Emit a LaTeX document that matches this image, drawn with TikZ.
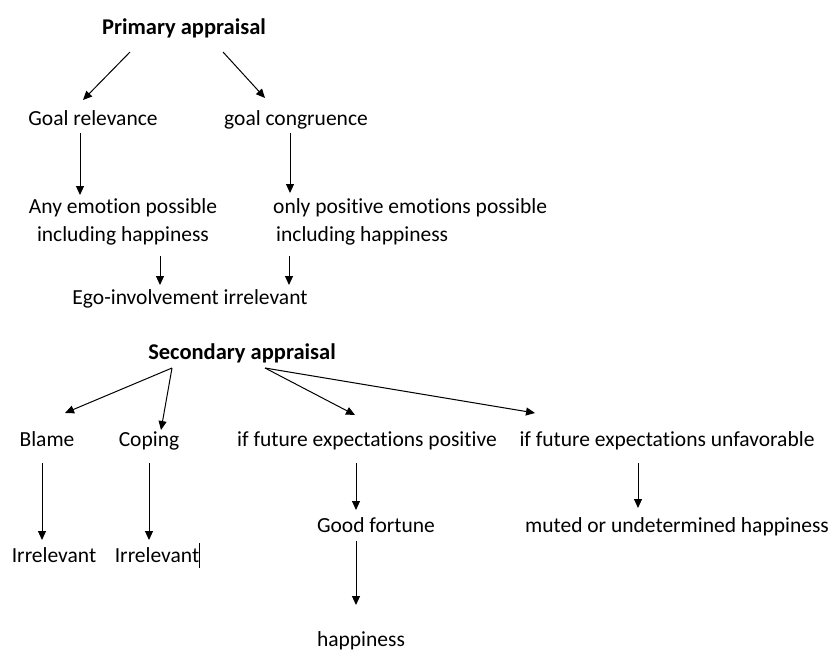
\documentclass[tikz,border=0pt]{standalone}
\usepackage{fontspec}
\setmainfont[Ligatures=NoCommon]{Carlito}
\usetikzlibrary{arrows.meta}
\begin{document}
\begin{tikzpicture}[x=1pt,y=-1pt,
  lbl/.style={inner sep=0pt,anchor=base,font=\fontsize{21.5}{28}\selectfont},
  ttl/.style={lbl,font=\fontsize{22.5}{28}\selectfont\bfseries},
  multi/.style={inner sep=0pt,font=\fontsize{21.5}{28}\selectfont},
  arr/.style={line width=1pt,-{Triangle[length=9pt,width=8pt]}}]
\useasboundingbox (0,0) rectangle (832,653);
% nodes
\node[ttl] (pa) at (184,34) {Primary appraisal};
\node[lbl] (gr) at (93,125) {Goal relevance};
\node[lbl] (gc) at (296,125) {goal congruence};
\node[multi,align=center] (aep) at (123,222) {Any emotion possible\\including happiness};
\node[multi,align=left,anchor=west] (opep) at (273,222) {only positive emotions possible\\\hspace{3pt}including happiness};
\node[lbl] (ego) at (190,304) {Ego-involvement irrelevant};
\node[ttl] (sa) at (242,359) {Secondary appraisal};
\node[lbl] (blame) at (47,446) {Blame};
\node[lbl] (coping) at (149,446) {Coping};
\node[lbl] (fep) at (367,446) {if future expectations positive};
\node[lbl] (feu) at (667,446) {if future expectations unfavorable};
\node[lbl] (irr1) at (54,562) {Irrelevant};
\node[lbl] (irr2) at (157,562) {Irrelevant};
\node[lbl] (gf) at (376,532) {Good fortune};
\node[lbl] (muted) at (677,532) {muted or undetermined happiness};
\node[lbl] (hap) at (361,646) {happiness};
% connectors
\draw[arr] ([shift={(-54,18)}]pa.base) -- ([shift={(-10,-25)}]gr.base);
\draw[arr] ([shift={(39,18)}]pa.base) -- ([shift={(-31,-27)}]gc.base);
\draw[arr] ([shift={(-13,8)}]gr.base) -- ([shift={(-43,-27)}]aep.center);
\draw[arr] ([shift={(-6,8)}]gc.base) -- ([shift={(17,-29)}]opep.west);
\draw[arr] ([shift={(37,34)}]aep.center) -- ([shift={(-30,-19)}]ego.base);
\draw[arr] ([shift={(16,34)}]opep.west) -- ([shift={(99,-19)}]ego.base);
\draw[arr] ([shift={(-70,9)}]sa.base) -- ([shift={(18,-33)}]blame.base);
\draw[arr] ([shift={(-70,9)}]sa.base) -- ([shift={(12,-16)}]coping.base);
\draw[arr] ([shift={(23,9)}]sa.base) -- ([shift={(-12,-31)}]fep.base);
\draw[arr] ([shift={(23,9)}]sa.base) -- ([shift={(-132,-33)}]feu.base);
\draw[arr] ([shift={(-5,17)}]blame.base) -- ([shift={(-12,-22)}]irr1.base);
\draw[arr] ([shift={(0,17)}]coping.base) -- ([shift={(-8,-22)}]irr2.base);
\draw[arr] ([shift={(-11,17)}]fep.base) -- ([shift={(-20,-22)}]gf.base);
\draw[arr] ([shift={(-29,17)}]feu.base) -- ([shift={(-39,-24)}]muted.base);
\draw[arr] ([shift={(-20,9)}]gf.base) -- ([shift={(-5,-41)}]hap.base);
% text caret
\draw[line width=0.8pt] ([shift={(42,-19)}]irr2.base) -- ([shift={(42,6)}]irr2.base);
\end{tikzpicture}
\end{document}
